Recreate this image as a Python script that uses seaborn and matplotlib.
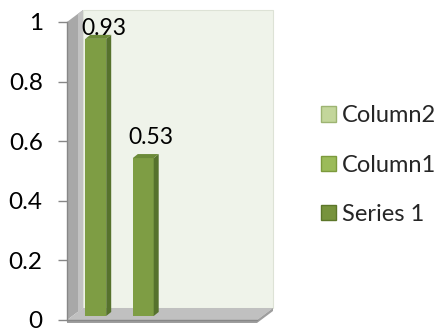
import numpy as np
import pandas as pd
import matplotlib
matplotlib.use("Agg")
import matplotlib.pyplot as plt
import seaborn as sns
from matplotlib.patches import Polygon, Patch
from matplotlib import transforms

# ---- data ----
categories = ["Category 1", "Category 2", "Category 3", "Category 4"]
series_1 = [0.93, 0.53, np.nan, np.nan]
series_names = ["Column2", "Column1", "Series 1"]
series_colors = ["#C3D69B", "#9BBB59", "#77933C"]
series_edges = ["#9DB472", "#7C9A3C", "#5C7629"]
y_ticks = [0, 0.2, 0.4, 0.6, 0.8, 1]
y_tick_labels = ["0", "0.2", "0.4", "0.6", "0.8", "1"]

sns.set_style("white")
plt.rcParams["font.family"] = ["Lato", "DejaVu Sans"]

W, H = 442, 331
fig = plt.figure(figsize=(W / 100, H / 100), dpi=100)

# pixel-space layer for the 3D walls and floor
deco = fig.add_axes([0, 0, 1, 1], zorder=1)
deco.set_xlim(0, W)
deco.set_ylim(H, 0)
deco.axis("off")

x0, x1 = 67, 257          # front plane, left/right
ytop, ybot = 22, 320      # front plane, value 1 / value 0
dx, dy = 16, -12          # depth of the box

# back wall
deco.add_patch(Polygon([(x0 + dx, ytop + dy), (x1 + dx, ytop + dy),
                        (x1 + dx, ybot + dy), (x0 + dx, ybot + dy)],
                       closed=True, fc="#EFF3EA", ec="#DDE2D6", lw=0.8))
# left wall
deco.add_patch(Polygon([(x0, ytop), (x0 + dx, ytop + dy),
                        (x0 + dx, ybot + dy), (x0, ybot)],
                       closed=True, fc="#A8A8A8", ec="none"))
deco.add_patch(Polygon([(x0 + 11, ytop - 8), (x0 + dx, ytop + dy),
                        (x0 + dx, ybot + dy), (x0 + 11, ybot - 8)],
                       closed=True, fc="#C2C2C2", ec="none"))
# floor
deco.add_patch(Polygon([(x0, ybot), (x0 + dx, ybot + dy),
                        (x1 + dx, ybot + dy), (x1, ybot)],
                       closed=True, fc="#C0C0C0", ec="none"))
deco.add_patch(Polygon([(x0, ybot), (x1, ybot), (x1 + dx, ybot + dy),
                        (x1 + dx, ybot + dy + 3), (x1, ybot + 3), (x0, ybot + 3)],
                       closed=True, fc="#9E9E9E", ec="none"))

# main plotting axes on the front plane
ax = fig.add_axes([x0 / W, (H - ybot) / H, (x1 - x0) / W, (ybot - ytop) / H], zorder=2)
ax.patch.set_alpha(0)

df = pd.DataFrame({"category": categories, "value": series_1})
bar_front, bar_side, bar_top = "#7E9D44", "#56722D", "#6B8A38"
sns.barplot(data=df, x="category", y="value", order=categories, color=bar_front,
            saturation=1, width=0.44, edgecolor="none", ax=ax)
ax.set_xlim(-0.5, len(categories) - 0.5)
ax.set_ylim(0, 1)

# bars sit half-way into the box; add side and top faces
px_x = (x1 - x0) / len(categories)
px_y = (ybot - ytop)
shift = transforms.ScaledTranslation(5 / 100, 4 / 100, fig.dpi_scale_trans)
bd_x, bd_y = 5 / px_x, 4 / px_y
for bar in list(ax.patches):
    h = bar.get_height()
    if not np.isfinite(h) or h <= 0:
        continue
    bar.set_transform(ax.transData + shift)
    bar.set_clip_on(False)
    xl = bar.get_x()
    xr = xl + bar.get_width()
    ax.add_patch(Polygon([(xr, 0), (xr + bd_x, bd_y), (xr + bd_x, h + bd_y), (xr, h)],
                         closed=True, fc=bar_side, ec="none",
                         transform=ax.transData + shift, clip_on=False))
    ax.add_patch(Polygon([(xl, h), (xr, h), (xr + bd_x, h + bd_y), (xl + bd_x, h + bd_y)],
                         closed=True, fc=bar_top, ec="none",
                         transform=ax.transData + shift, clip_on=False))

# value labels above the bars, kept inside the chart area
for i, v in enumerate(series_1):
    if not np.isfinite(v):
        continue
    front_top = ybot - v * px_y
    baseline = max(front_top - 18, 35)
    ax.annotate(f"{v:.2f}", xy=(i, v), xytext=(13, front_top - baseline),
                textcoords="offset pixels", ha="center", va="baseline",
                fontsize=16.5, color="black", annotation_clip=False)

ax.set_yticks(y_ticks, y_tick_labels)
ax.set_xticks([])
ax.set_xlabel("")
ax.set_ylabel("")
ax.tick_params(axis="y", length=6.5, width=1, color="#878787", pad=11,
               labelsize=17.5, labelcolor="black", left=True)
for side in ["top", "right"]:
    ax.spines[side].set_visible(False)
for side in ["left", "bottom"]:
    ax.spines[side].set_color("#878787")
    ax.spines[side].set_linewidth(1)

# legend
handles = [Patch(facecolor=c, edgecolor=e, linewidth=1) for c, e in zip(series_colors, series_edges)]
fig.legend(handles, series_names, loc="center left", bbox_to_anchor=(321 / W, 1 - 165 / H),
           frameon=False, fontsize=17, handlelength=0.62, handleheight=0.62,
           handletextpad=0.25, labelspacing=1.2, borderaxespad=0, borderpad=0)

fig.savefig("out.png", dpi=100)
